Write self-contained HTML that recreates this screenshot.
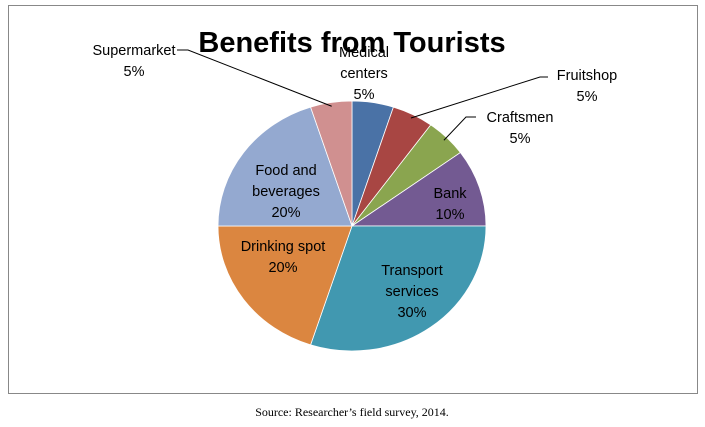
<!DOCTYPE html>
<html><head><meta charset="utf-8"><style>
body{margin:0;background:#fff;width:705px;height:427px;overflow:hidden}
svg{display:block}
</style></head><body>
<svg width="705" height="427">
<rect x="8.5" y="5.5" width="689" height="388" fill="#fff" stroke="#888"/>
<g id="slices"></g>
<g id="leaders" stroke="#000" stroke-width="1" fill="none"></g>
<g id="labels" font-family="'Liberation Sans',sans-serif" font-size="14.5" fill="#000" text-anchor="middle"></g>
<text x="352" y="52" text-anchor="middle" font-family="'Liberation Sans',sans-serif" font-weight="bold" font-size="29">Benefits from Tourists</text>
<text x="352" y="416" text-anchor="middle" font-family="'Liberation Serif',serif" font-size="12">Source: Researcher’s field survey, 2014.</text>
</svg>
<script>
const categories=["Medical centers","Fruitshop","Craftsmen","Bank","Transport services","Drinking spot","Food and beverages","Supermarket"];
const values=[5,5,5,10,30,20,20,5];
const colors=["#4a72a6","#a84643","#8aa54f","#735a92","#4198b0","#db8640","#94a9d0","#d09090"];
const labelLines=[["Medical","centers","5%"],["Fruitshop","5%"],["Craftsmen","5%"],["Bank","10%"],["Transport","services","30%"],["Drinking spot","20%"],["Food and","beverages","20%"],["Supermarket","5%"]];
const cx=352,cy=226,rx=134,ry=125;
const total=values.reduce((a,b)=>a+b,0);
const ns="http://www.w3.org/2000/svg";
function pt(a,f){return [cx+rx*f*Math.sin(a),cy-ry*f*Math.cos(a)];}
const sg=document.getElementById('slices'),lg=document.getElementById('labels'),ld=document.getElementById('leaders');
const labelPos=[[364,57],[587,80],[520,122],[450,198],[412,275],[283,251],[286,175],[134,55]];
const leaderEnds=[null,[[548,77],[540,77]],[[476,117],[466,117]],null,null,null,null,[[177,50],[188,50]]];
let acc=0;
values.forEach((v,i)=>{
  const a0=acc/total*2*Math.PI;acc+=v;const a1=acc/total*2*Math.PI;
  const p0=pt(a0,1),p1=pt(a1,1);const large=(a1-a0)>Math.PI?1:0;
  const p=document.createElementNS(ns,'path');
  p.setAttribute('d',`M${cx},${cy}L${p0[0]},${p0[1]}A${rx},${ry} 0 ${large} 1 ${p1[0]},${p1[1]}Z`);
  p.setAttribute('fill',colors[i]);p.setAttribute('stroke','#fff');p.setAttribute('stroke-width','0.8');
  
  
  sg.appendChild(p);
  if(leaderEnds[i]){const m=pt((a0+a1)/2,0.97);const e=leaderEnds[i];
    const l=document.createElementNS(ns,'polyline');
    l.setAttribute('points',`${m[0]},${m[1]} ${e[1][0]},${e[1][1]} ${e[0][0]},${e[0][1]}`);
    
    
    ld.appendChild(l);}
  const t=document.createElementNS(ns,'text');
  
  
  const lines=labelLines[i];
  lines.forEach((s,k)=>{const ts=document.createElementNS(ns,'tspan');
    ts.setAttribute('x',labelPos[i][0]);ts.setAttribute('y',labelPos[i][1]+k*21);
    ts.textContent=k===lines.length-1?(v+'%'):s;t.appendChild(ts);});
  lg.appendChild(t);
});
</script>
</body></html>
